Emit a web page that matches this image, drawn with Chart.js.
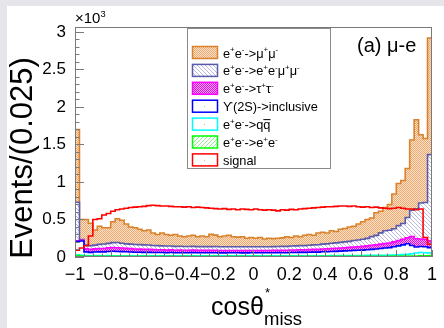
<!DOCTYPE html>
<html>
<head>
<meta charset="utf-8">
<script src="https://cdn.jsdelivr.net/npm/chart.js@4/dist/chart.umd.min.js"></script>
<style>
  html, body { margin: 0; padding: 0; background: #fff; }
  #wrap { width: 444px; height: 328px; }
</style>
</head>
<body>
<div id="wrap"><canvas id="chart" width="444" height="328"></canvas></div>
<script>
// 80 bins of 0.025 between -1 and 1
const binEdges = [];
for (let i = 0; i <= 80; i++) binEdges.push(-1 + i * 0.025);

// events per bin for every process (stacked, bottom to top: ee, qq, ups, tautau, eemumu, mumu)
const eeEvents = [
  18, 14, 10, 8, 8, 9, 8, 10, 9, 8,
  8, 9, 8, 7, 8, 8, 7, 8, 7, 8,
  7, 8, 7, 7, 8, 7, 8, 7, 7, 8,
  7, 8, 7, 7, 8, 7, 7, 8, 7, 7,
  8, 7, 7, 8, 7, 7, 8, 7, 8, 7,
  8, 7, 8, 8, 7, 8, 8, 9, 8, 8,
  9, 8, 9, 9, 8, 9, 10, 9, 10, 10,
  10, 11, 10, 12, 12, 13, 14, 15, 16, 20
];
const qqEvents = [
  12, 10, 8, 8, 10, 9, 8, 9, 8, 8,
  8, 8, 9, 8, 8, 9, 8, 8, 9, 8,
  8, 9, 8, 8, 9, 8, 8, 9, 8, 8,
  9, 8, 8, 9, 8, 8, 9, 8, 8, 9,
  8, 8, 9, 8, 8, 9, 8, 8, 9, 8,
  9, 8, 9, 9, 8, 9, 9, 10, 9, 10,
  10, 10, 11, 10, 11, 12, 12, 13, 13, 14,
  15, 16, 18, 20, 25, 30, 40, 45, 40, 35
];
const upsEvents = [
  175, 190, 50, 45, 48, 50, 52, 55, 60, 58,
  55, 52, 50, 48, 47, 45, 46, 44, 43, 44,
  42, 43, 41, 42, 40, 41, 42, 40, 41, 40,
  40, 41, 40, 39, 40, 41, 40, 39, 40, 40,
  40, 41, 40, 40, 41, 42, 41, 42, 43, 44,
  45, 46, 46, 48, 50, 52, 53, 55, 58, 60,
  62, 65, 68, 70, 72, 75, 80, 85, 90, 95,
  100, 110, 120, 130, 140, 110, 80, 80, 80, 70
];
const tautauEvents = [
  10, 10, 40, 40, 42, 45, 45, 48, 50, 50,
  48, 46, 45, 44, 42, 40, 40, 38, 37, 36,
  35, 35, 34, 34, 33, 33, 33, 32, 32, 32,
  32, 32, 31, 31, 31, 31, 31, 31, 31, 31,
  31, 31, 31, 31, 32, 32, 32, 33, 33, 34,
  34, 35, 35, 36, 37, 38, 39, 40, 41, 42,
  43, 45, 46, 48, 50, 52, 54, 56, 58, 60,
  62, 65, 70, 75, 80, 120, 110, 100, 100, 90
];
const eemumuEvents = [
  515, 10, 50, 50, 50, 55, 60, 60, 65, 70,
  65, 60, 60, 60, 60, 60, 58, 55, 55, 52,
  55, 52, 52, 52, 50, 50, 50, 50, 50, 50,
  50, 50, 50, 50, 50, 50, 50, 50, 50, 50,
  50, 50, 50, 50, 50, 50, 52, 52, 54, 55,
  55, 56, 58, 60, 62, 64, 66, 70, 72, 75,
  78, 80, 85, 90, 95, 100, 115, 125, 150, 170,
  170, 175, 200, 210, 270, 350, 400, 480, 490, 1150
];
const mumuEvents = [
  970, 266, 342, 299, 202, 242, 217, 208, 278, 316,
  306, 265, 228, 223, 205, 188, 201, 167, 149, 172,
  153, 143, 158, 137, 130, 141, 149, 132, 142, 132,
  163, 153, 133, 143, 153, 133, 128, 133, 113, 123,
  113, 123, 103, 113, 107, 110, 114, 128, 113, 132,
  119, 138, 144, 129, 156, 159, 145, 166, 152, 175,
  178, 192, 191, 213, 234, 252, 249, 302, 289, 311,
  343, 463, 562, 573, 653, 937, 1186, 910, 854, 1555
];
const signalEvents = [
  90, 120, 150, 280, 500, 510, 560, 580, 610, 630,
  640, 650, 660, 665, 670, 675, 685, 690, 685, 680,
  680, 675, 670, 670, 665, 670, 660, 665, 660, 655,
  650, 645, 640, 645, 635, 640, 630, 640, 635, 630,
  640, 630, 625, 630, 625, 615, 630, 625, 635, 630,
  640, 645, 650, 655, 660, 665, 670, 670, 675, 680,
  680, 675, 680, 670, 665, 670, 660, 665, 655, 650,
  645, 650, 660, 650, 640, 640, 630, 640, 260, 170
];

const xTicks = [-1, -0.8, -0.6, -0.4, -0.2, 0, 0.2, 0.4, 0.6, 0.8, 1];
const yTicks = [0, 500, 1000, 1500, 2000, 2500, 3000];
const yMax = 3066;

const canvas = document.getElementById('chart');
const ctx = canvas.getContext('2d');

// small ROOT-like fill patterns
function makePattern(size, bg, fg, pts) {
  const c = document.createElement('canvas');
  c.width = size; c.height = size;
  const g = c.getContext('2d');
  g.fillStyle = bg; g.fillRect(0, 0, size, size);
  g.fillStyle = fg;
  pts.forEach(p => g.fillRect(p[0], p[1], 1, 1));
  return ctx.createPattern(c, 'repeat');
}
const patMuMu = makePattern(2, '#fbe2cc', '#eda86e', [[0, 0], [1, 1]]);
const patEeMuMu = makePattern(4, '#ffffff', '#b8b8e0', [[0, 0], [1, 1], [2, 2], [3, 3]]);
const patTauTau = makePattern(2, '#f2a6f2', '#e010e0', [[0, 0], [1, 1]]);
const patEe = makePattern(4, '#ffffff', '#90f090', [[3, 0], [2, 1], [1, 2], [0, 3]]);

// cumulative stack from the per-process arrays
function addArrays(...arrs) {
  return arrs[0].map((_, i) => arrs.reduce((s, a) => s + a[i], 0));
}
const stackEe = eeEvents;
const stackQq = addArrays(eeEvents, qqEvents);
const stackUps = addArrays(eeEvents, qqEvents, upsEvents);
const stackTauTau = addArrays(eeEvents, qqEvents, upsEvents, tautauEvents);
const stackEeMuMu = addArrays(eeEvents, qqEvents, upsEvents, tautauEvents, eemumuEvents);
const stackMuMu = addArrays(eeEvents, qqEvents, upsEvents, tautauEvents, eemumuEvents, mumuEvents);

function toSteps(values) {
  const pts = values.map((v, i) => ({ x: binEdges[i], y: v }));
  pts.push({ x: 1, y: values[values.length - 1] });
  return pts;
}

function histo(values, color, fill, order) {
  return {
    data: toSteps(values),
    borderColor: color,
    borderWidth: 1.6,
    backgroundColor: fill || 'rgba(0,0,0,0)',
    fill: fill ? 'origin' : false,
    stepped: 'before',
    pointRadius: 0,
    order: order
  };
}

// rich text: parts are [text, mode] with mode 0 normal, 1 superscript, -1 subscript, 2 overlined
function richText(x, y, parts, size, align) {
  const segs = parts.map(([t, m]) => {
    const s = (m === 1 || m === -1) ? size * 0.62 : size;
    ctx.font = s + 'px "Liberation Sans", Arial, sans-serif';
    return { t, m, s, w: ctx.measureText(t).width };
  });
  const total = segs.reduce((a, s) => a + s.w, 0);
  let cx = align === 'center' ? x - total / 2 : align === 'right' ? x - total : x;
  ctx.textAlign = 'left';
  ctx.textBaseline = 'alphabetic';
  segs.forEach(s => {
    ctx.font = s.s + 'px "Liberation Sans", Arial, sans-serif';
    let dy = 0;
    if (s.m === 1) dy = -size * 0.42;
    if (s.m === -1) dy = size * 0.25;
    ctx.fillText(s.t, cx, y + dy);
    if (s.m === 2) {
      ctx.fillRect(cx, y - size * 0.78, s.w, 1);
    }
    cx += s.w;
  });
}

const legendItems = [
  { parts: [['e', 0], ['+', 1], ['e', 0], ['-', 1], ['->\u03bc', 0], ['+', 1], ['\u03bc', 0], ['-', 1]], color: '#d9822b', fill: patMuMu },
  { parts: [['e', 0], ['+', 1], ['e', 0], ['-', 1], ['->e', 0], ['+', 1], ['e', 0], ['-', 1], ['\u03bc', 0], ['+', 1], ['\u03bc', 0], ['-', 1]], color: '#5a5aaa', fill: patEeMuMu },
  { parts: [['e', 0], ['+', 1], ['e', 0], ['-', 1], ['->\u03c4', 0], ['+', 1], ['\u03c4', 0], ['-', 1]], color: '#ff00ff', fill: patTauTau },
  { parts: [['\u03d2(2S)->inclusive', 0]], color: '#0000ff', fill: null },
  { parts: [['e', 0], ['+', 1], ['e', 0], ['-', 1], ['->q', 0], ['q', 2]], color: '#00ffff', fill: null },
  { parts: [['e', 0], ['+', 1], ['e', 0], ['-', 1], ['->e', 0], ['+', 1], ['e', 0], ['-', 1]], color: '#00ff00', fill: patEe },
  { parts: [['signal', 0]], color: '#ff0000', fill: null }
];

const rootDecor = {
  id: 'rootDecor',
  beforeDraw(chart) {
    const c = chart.ctx;
    c.save();
    c.fillStyle = '#e6e6ea';
    c.fillRect(0, 0, chart.width, chart.height);
    c.fillStyle = '#ffffff';
    c.fillRect(7, 6, chart.width - 7, chart.height - 6);
    c.restore();
  },
  afterDraw(chart) {
    const c = chart.ctx;
    const a = chart.chartArea;
    const xs = chart.scales.x, ys = chart.scales.y;
    c.save();
    c.strokeStyle = '#7a7a7a';
    c.lineWidth = 1;
    c.strokeRect(a.left + 0.5, a.top + 0.5, a.right - a.left - 1, a.bottom - a.top - 1);
    c.beginPath();
    for (let v = 0; v <= 3000; v += 100) {
      const y = Math.round(ys.getPixelForValue(v)) + 0.5;
      const len = v % 500 === 0 ? 9 : 4.5;
      c.moveTo(a.left, y); c.lineTo(a.left + len, y);
    }
    for (let k = 0; k <= 40; k++) {
      const v = -1 + k * 0.05;
      const x = Math.round(xs.getPixelForValue(v)) + 0.5;
      const len = k % 4 === 0 ? 7 : 3.5;
      c.moveTo(x, a.bottom); c.lineTo(x, a.bottom - len);
    }
    c.stroke();

    // legend
    c.fillStyle = '#fff';
    c.fillRect(187, 28, 144, 141);
    c.strokeStyle = '#8a8a8a';
    c.strokeRect(187.5, 28.5, 143, 140);
    legendItems.forEach((it, i) => {
      const cy = 52.5 + 17.9 * i;
      c.fillStyle = it.fill || '#fff';
      c.fillRect(192, cy - 6, 26, 12);
      c.strokeStyle = it.color;
      c.lineWidth = 1.5;
      c.strokeRect(192.5, cy - 6, 25, 12);
      if (!it.fill) { c.fillStyle = '#bbb'; c.fillRect(204, Math.round(cy), 1, 1); }
      c.fillStyle = '#000';
      richText(223, cy + 5, it.parts, 12.8, 'left');
    });

    c.fillStyle = '#000';
    richText(357, 52, [['(a) \u03bc-e', 0]], 20, 'left');
    richText(75, 23, [['\u00d710', 0], ['3', 1]], 15, 'left');

    // axis titles
    richText(211, 315, [['cos\u03b8', 0]], 25, 'left');
    richText(265, 297, [['*', 0]], 13, 'left');
    richText(264, 325, [['miss', 0]], 18.5, 'left');
    c.save();
    c.translate(32, 158);
    c.rotate(-Math.PI / 2);
    c.font = '31px "Liberation Sans", Arial, sans-serif';
    c.textAlign = 'center';
    c.textBaseline = 'alphabetic';
    c.fillText('Events/(0.025)', 0, 0);
    c.restore();
    c.restore();
  }
};

function fmtX(v) {
  const r = Math.round(v * 10) / 10;
  if (r === 0) return '0';
  return (r < 0 ? '\u2212' : '') + String(Math.abs(r));
}

new Chart(ctx, {
  type: 'line',
  data: {
    datasets: [
      histo(stackMuMu, '#d9822b', patMuMu, 7),
      histo(stackEeMuMu, '#5a5aaa', patEeMuMu, 6),
      histo(stackTauTau, '#ff00ff', patTauTau, 5),
      histo(stackUps, '#0000ff', '#ffffff', 4),
      histo(stackQq, '#00ffff', '#ffffff', 3),
      histo(stackEe, '#00ff00', patEe, 2),
      histo(signalEvents, '#ff0000', null, 1)
    ]
  },
  options: {
    responsive: false,
    animation: false,
    devicePixelRatio: 1,
    layout: { padding: { top: 27, right: 6, left: 0, bottom: 0 } },
    plugins: { legend: { display: false }, tooltip: { enabled: false } },
    scales: {
      x: {
        type: 'linear',
        min: -1,
        max: 1,
        afterFit: s => { s.height = 71; },
        afterBuildTicks: s => { s.ticks = xTicks.map(v => ({ value: v })); },
        grid: { display: false, drawTicks: false },
        border: { display: false },
        ticks: {
          callback: fmtX,
          autoSkip: false,
          maxRotation: 0,
          padding: 7,
          color: '#000',
          font: { family: '"Liberation Sans", Arial, sans-serif', size: 18 }
        }
      },
      y: {
        type: 'linear',
        min: 0,
        max: yMax,
        afterFit: s => { s.width = 75; },
        afterBuildTicks: s => { s.ticks = yTicks.map(v => ({ value: v })); },
        grid: { display: false, drawTicks: false },
        border: { display: false },
        ticks: {
          callback: v => String(v / 1000),
          padding: 9,
          color: '#000',
          font: { family: '"Liberation Sans", Arial, sans-serif', size: 17 }
        }
      }
    }
  },
  plugins: [rootDecor]
});
</script>
</body>
</html>
